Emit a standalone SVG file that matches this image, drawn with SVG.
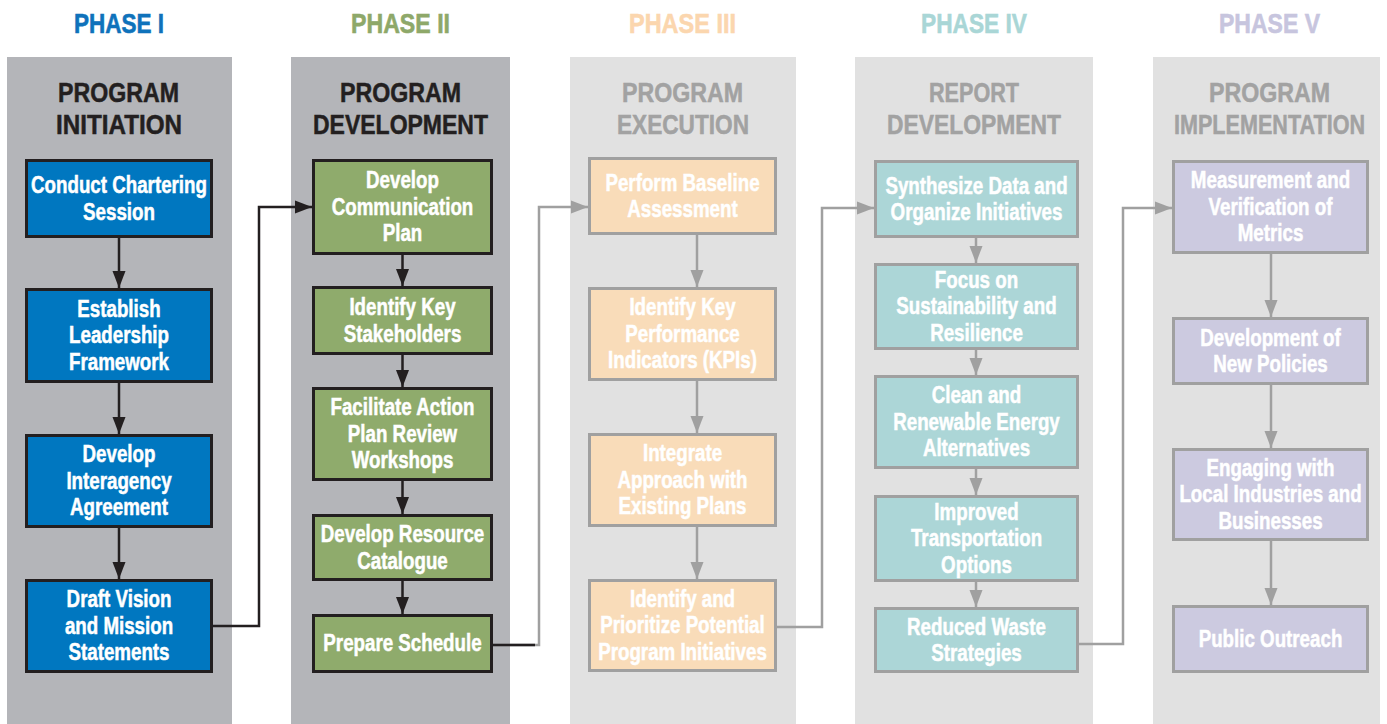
<svg xmlns="http://www.w3.org/2000/svg" width="1387" height="724" viewBox="0 0 1387 724">
<style>
text{font-family:"Liberation Sans",Arial,sans-serif;font-weight:bold;text-anchor:middle}
.ph{font-size:28px;stroke-width:0.6}
.hd{font-size:27px;stroke-width:0.5}
.hdk{fill:#231f20;stroke:#231f20}.hdg{fill:#a2a2a2;stroke:#a2a2a2}
.bt{font-size:23px;fill:#ffffff;stroke:#ffffff;stroke-width:0.5}
.pdk{fill:#b4b5b9}.plt{fill:#e1e1e1}
.b1{fill:#0077c0;stroke:#231f20;stroke-width:3}
.b2{fill:#8fab6c;stroke:#231f20;stroke-width:3}
.b3{fill:#f9dcb9;stroke:#a0a0a0;stroke-width:3}
.b4{fill:#acd6d7;stroke:#a0a0a0;stroke-width:3}
.b5{fill:#cccae0;stroke:#a0a0a0;stroke-width:3}
.ck{fill:none;stroke:#231f20;stroke-width:2.5}
.cg{fill:none;stroke:#a0a0a0;stroke-width:2.5}
</style>
<defs>
<marker id="ak" markerUnits="userSpaceOnUse" markerWidth="18" markerHeight="14" refX="17" refY="7" orient="auto"><path d="M0,0.5 L17,7 L0,13.5 Z" fill="#231f20"/></marker>
<marker id="ag" markerUnits="userSpaceOnUse" markerWidth="18" markerHeight="14" refX="17" refY="7" orient="auto"><path d="M0,0.5 L17,7 L0,13.5 Z" fill="#a0a0a0"/></marker>
</defs>
<rect width="1387" height="724" fill="#ffffff"/>
<g id="panels">
<rect class="pdk" x="7" y="57" width="225" height="667"/>
<rect class="pdk" x="291" y="57" width="219" height="667"/>
<rect class="plt" x="570" y="57" width="226" height="667"/>
<rect class="plt" x="855" y="57" width="238" height="667"/>
<rect class="plt" x="1153" y="57" width="227" height="667"/>
</g>
<g id="titles">
<text class="ph" x="119" y="33" fill="#0f72bb" stroke="#0f72bb" textLength="90" lengthAdjust="spacingAndGlyphs">PHASE I</text>
<text class="ph" x="400.5" y="33" fill="#8ea869" stroke="#8ea869" textLength="99" lengthAdjust="spacingAndGlyphs">PHASE II</text>
<text class="ph" x="682.5" y="33" fill="#fbd6ae" stroke="#fbd6ae" textLength="107" lengthAdjust="spacingAndGlyphs">PHASE III</text>
<text class="ph" x="974" y="33" fill="#a9d6d6" stroke="#a9d6d6" textLength="106" lengthAdjust="spacingAndGlyphs">PHASE IV</text>
<text class="ph" x="1269.5" y="33" fill="#c7c5de" stroke="#c7c5de" textLength="101" lengthAdjust="spacingAndGlyphs">PHASE V</text>
<text class="hd hdk" x="118.5" y="102" textLength="121" lengthAdjust="spacingAndGlyphs">PROGRAM</text>
<text class="hd hdk" x="119" y="134" textLength="126" lengthAdjust="spacingAndGlyphs">INITIATION</text>
<text class="hd hdk" x="400.5" y="102" textLength="121" lengthAdjust="spacingAndGlyphs">PROGRAM</text>
<text class="hd hdk" x="400.5" y="134" textLength="175" lengthAdjust="spacingAndGlyphs">DEVELOPMENT</text>
<text class="hd hdg" x="682.5" y="102" textLength="121" lengthAdjust="spacingAndGlyphs">PROGRAM</text>
<text class="hd hdg" x="683" y="134" textLength="132" lengthAdjust="spacingAndGlyphs">EXECUTION</text>
<text class="hd hdg" x="974" y="102" textLength="90" lengthAdjust="spacingAndGlyphs">REPORT</text>
<text class="hd hdg" x="974" y="134" textLength="174" lengthAdjust="spacingAndGlyphs">DEVELOPMENT</text>
<text class="hd hdg" x="1269.5" y="102" textLength="121" lengthAdjust="spacingAndGlyphs">PROGRAM</text>
<text class="hd hdg" x="1269.5" y="134" textLength="191" lengthAdjust="spacingAndGlyphs">IMPLEMENTATION</text>
</g>
<g id="connectors">
<path class="ck" d="M119,238 V288" marker-end="url(#ak)"/>
<path class="ck" d="M119,383 V434" marker-end="url(#ak)"/>
<path class="ck" d="M119,528 V579" marker-end="url(#ak)"/>
<path class="ck" d="M402.5,255 V286" marker-end="url(#ak)"/>
<path class="ck" d="M402.5,355 V387" marker-end="url(#ak)"/>
<path class="ck" d="M402.5,481 V514" marker-end="url(#ak)"/>
<path class="ck" d="M402.5,581 V614" marker-end="url(#ak)"/>
<path class="cg" d="M697,235 V287" marker-end="url(#ag)"/>
<path class="cg" d="M697,381 V433" marker-end="url(#ag)"/>
<path class="cg" d="M697,527 V579" marker-end="url(#ag)"/>
<path class="cg" d="M976,238 V263" marker-end="url(#ag)"/>
<path class="cg" d="M976,350 V375" marker-end="url(#ag)"/>
<path class="cg" d="M976,469 V495" marker-end="url(#ag)"/>
<path class="cg" d="M976,582 V607" marker-end="url(#ag)"/>
<path class="cg" d="M1271,254 V317" marker-end="url(#ag)"/>
<path class="cg" d="M1271,385 V448" marker-end="url(#ag)"/>
<path class="cg" d="M1271,541 V605" marker-end="url(#ag)"/>
<path class="ck" d="M213,626 H259 V207 H312" marker-end="url(#ak)"/>
<path class="cg" d="M493,645 H539 V207 H588" marker-end="url(#ag)"/>
<path class="ck" d="M493,645 H535"/>
<path class="cg" d="M777,627 H822 V208 H874" marker-end="url(#ag)"/>
<path class="cg" d="M1079,644 H1123 V208 H1172" marker-end="url(#ag)"/>
</g>
<g id="n1"><rect class="b1" x="26.5" y="160.5" width="185" height="76"/><g transform="translate(119 0) scale(0.815 1)"><text class="bt" x="0" y="193.2">Conduct Chartering</text><text class="bt" x="0" y="219.7">Session</text></g></g>
<g id="n2"><rect class="b1" x="26.5" y="289.5" width="185" height="92"/><g transform="translate(119 0) scale(0.815 1)"><text class="bt" x="0" y="317">Establish</text><text class="bt" x="0" y="343.5">Leadership</text><text class="bt" x="0" y="370">Framework</text></g></g>
<g id="n3"><rect class="b1" x="26.5" y="435.5" width="185" height="91"/><g transform="translate(119 0) scale(0.815 1)"><text class="bt" x="0" y="462.5">Develop</text><text class="bt" x="0" y="489">Interagency</text><text class="bt" x="0" y="515.5">Agreement</text></g></g>
<g id="n4"><rect class="b1" x="26.5" y="580.5" width="185" height="91"/><g transform="translate(119 0) scale(0.815 1)"><text class="bt" x="0" y="607.5">Draft Vision</text><text class="bt" x="0" y="634">and Mission</text><text class="bt" x="0" y="660.5">Statements</text></g></g>
<g id="n5"><rect class="b2" x="313.5" y="160.5" width="178" height="93"/><g transform="translate(402.5 0) scale(0.815 1)"><text class="bt" x="0" y="188.5">Develop</text><text class="bt" x="0" y="215">Communication</text><text class="bt" x="0" y="241.5">Plan</text></g></g>
<g id="n6"><rect class="b2" x="313.5" y="287.5" width="178" height="66"/><g transform="translate(402.5 0) scale(0.815 1)"><text class="bt" x="0" y="315.2">Identify Key</text><text class="bt" x="0" y="341.7">Stakeholders</text></g></g>
<g id="n7"><rect class="b2" x="313.5" y="388.5" width="178" height="91"/><g transform="translate(402.5 0) scale(0.815 1)"><text class="bt" x="0" y="415.5">Facilitate Action</text><text class="bt" x="0" y="442">Plan Review</text><text class="bt" x="0" y="468.5">Workshops</text></g></g>
<g id="n8"><rect class="b2" x="313.5" y="515.5" width="178" height="64"/><g transform="translate(402.5 0) scale(0.815 1)"><text class="bt" x="0" y="542.2">Develop Resource</text><text class="bt" x="0" y="568.7">Catalogue</text></g></g>
<g id="n9"><rect class="b2" x="313.5" y="615.5" width="178" height="56"/><g transform="translate(402.5 0) scale(0.815 1)"><text class="bt" x="0" y="651.5">Prepare Schedule</text></g></g>
<g id="n10"><rect class="b3" x="589.5" y="158.5" width="186" height="75"/><g transform="translate(682.5 0) scale(0.815 1)"><text class="bt" x="0" y="190.7">Perform Baseline</text><text class="bt" x="0" y="217.2">Assessment</text></g></g>
<g id="n11"><rect class="b3" x="589.5" y="288.5" width="186" height="91"/><g transform="translate(682.5 0) scale(0.815 1)"><text class="bt" x="0" y="315.5">Identify Key</text><text class="bt" x="0" y="342">Performance</text><text class="bt" x="0" y="368.5">Indicators (KPIs)</text></g></g>
<g id="n12"><rect class="b3" x="589.5" y="434.5" width="186" height="91"/><g transform="translate(682.5 0) scale(0.815 1)"><text class="bt" x="0" y="461.5">Integrate</text><text class="bt" x="0" y="488">Approach with</text><text class="bt" x="0" y="514.5">Existing Plans</text></g></g>
<g id="n13"><rect class="b3" x="589.5" y="580.5" width="186" height="90"/><g transform="translate(682.5 0) scale(0.815 1)"><text class="bt" x="0" y="607">Identify and</text><text class="bt" x="0" y="633.5">Prioritize Potential</text><text class="bt" x="0" y="660">Program Initiatives</text></g></g>
<g id="n14"><rect class="b4" x="875.5" y="161.5" width="202" height="75"/><g transform="translate(976.5 0) scale(0.815 1)"><text class="bt" x="0" y="193.7">Synthesize Data and</text><text class="bt" x="0" y="220.2">Organize Initiatives</text></g></g>
<g id="n15"><rect class="b4" x="875.5" y="264.5" width="202" height="84"/><g transform="translate(976.5 0) scale(0.815 1)"><text class="bt" x="0" y="288">Focus on</text><text class="bt" x="0" y="314.5">Sustainability and</text><text class="bt" x="0" y="341">Resilience</text></g></g>
<g id="n16"><rect class="b4" x="875.5" y="376.5" width="202" height="91"/><g transform="translate(976.5 0) scale(0.815 1)"><text class="bt" x="0" y="403.5">Clean and</text><text class="bt" x="0" y="430">Renewable Energy</text><text class="bt" x="0" y="456.5">Alternatives</text></g></g>
<g id="n17"><rect class="b4" x="875.5" y="496.5" width="202" height="84"/><g transform="translate(976.5 0) scale(0.815 1)"><text class="bt" x="0" y="520">Improved</text><text class="bt" x="0" y="546.5">Transportation</text><text class="bt" x="0" y="573">Options</text></g></g>
<g id="n18"><rect class="b4" x="875.5" y="608.5" width="202" height="63"/><g transform="translate(976.5 0) scale(0.815 1)"><text class="bt" x="0" y="634.7">Reduced Waste</text><text class="bt" x="0" y="661.2">Strategies</text></g></g>
<g id="n19"><rect class="b5" x="1173.5" y="161.5" width="194" height="91"/><g transform="translate(1270.5 0) scale(0.815 1)"><text class="bt" x="0" y="188.5">Measurement and</text><text class="bt" x="0" y="215">Verification of</text><text class="bt" x="0" y="241.5">Metrics</text></g></g>
<g id="n20"><rect class="b5" x="1173.5" y="318.5" width="194" height="65"/><g transform="translate(1270.5 0) scale(0.815 1)"><text class="bt" x="0" y="345.7">Development of</text><text class="bt" x="0" y="372.2">New Policies</text></g></g>
<g id="n21"><rect class="b5" x="1173.5" y="449.5" width="194" height="90"/><g transform="translate(1270.5 0) scale(0.815 1)"><text class="bt" x="0" y="476">Engaging with</text><text class="bt" x="0" y="502.5">Local Industries and</text><text class="bt" x="0" y="529">Businesses</text></g></g>
<g id="n22"><rect class="b5" x="1173.5" y="606.5" width="194" height="65"/><g transform="translate(1270.5 0) scale(0.815 1)"><text class="bt" x="0" y="647">Public Outreach</text></g></g>
</svg>
